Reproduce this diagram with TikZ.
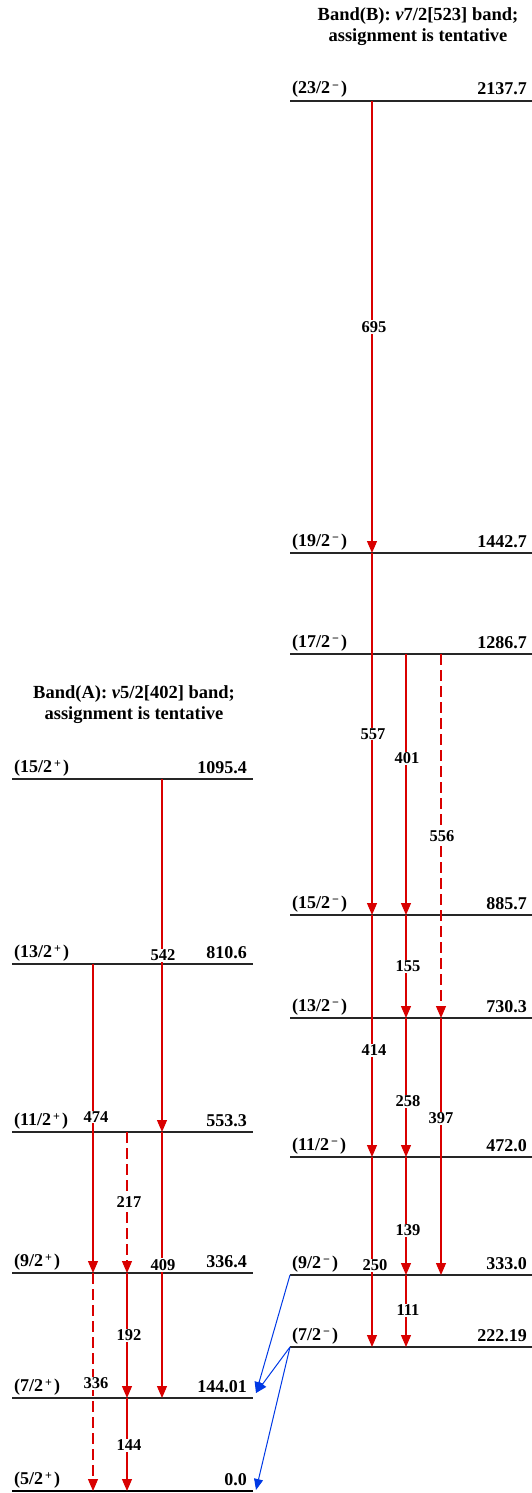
\documentclass[tikz,border=0pt]{standalone}
\usepackage{fontspec}
\setmainfont{Liberation Serif}
\usetikzlibrary{arrows.meta, positioning}

\newcommand{\parm}{\raisebox{0.6ex}{\fontsize{12}{12}\selectfont\,−\,}}
\newcommand{\parp}{\raisebox{0.6ex}{\fontsize{12}{12}\selectfont\,+\,}}

\begin{document}
\begin{tikzpicture}[
  x=1pt, y=-1pt,
  level/.style={line width=1.2pt, black!85},
  ground/.style={line width=2.6pt},
  tr/.style={draw=red!85!black, line width=1.2pt, -{Triangle[length=12pt,width=10pt]}},
  trd/.style={tr, dash pattern=on 11pt off 5pt},
  link/.style={draw=blue!75!cyan!90!black, line width=1pt, -{Triangle[length=11pt,width=9pt]}},
  lbl/.style={fill=white, inner sep=1pt, text=black, font=\bfseries\fontsize{16.5}{17}\selectfont},
  spin/.style={anchor=base west, inner sep=0pt, font=\bfseries\fontsize{18}{18}\selectfont},
  ener/.style={anchor=base east, inner sep=0pt, font=\bfseries\fontsize{18}{18}\selectfont},
  title/.style={align=center, font=\bfseries\fontsize{18.5}{21}\selectfont}
]
\useasboundingbox (0,0) rectangle (532,1493);

% band titles
\node[title] (titleB) at (418,27) {Band(B): \textit{v}7/2[523] band;\\assignment is tentative};
\node[title] (titleA) at (134,705) {Band(A): \textit{v}5/2[402] band;\\assignment is tentative};

% band (B) levels
\foreach \name/\y/\spn/\en in {23/101/23/2137.7, 19/553/19/1442.7, 17/654/17/1286.7,
    15/915/15/885.7, 13/1018/13/730.3, 11/1157/11/472.0, 9/1275/9/333.0, 7/1347/7/222.19} {
  \draw[level] (290,\y) coordinate (B\name) -- (532,\y) coordinate (B\name r);
  \node[spin] (Bs\name) at (292,\y-7) {(\spn/2\parm)};
  \node[ener] (Be\name) at (527,\y-6) {\en};
}

% band (A) levels
\foreach \name/\y/\spn/\en in {15/779/15/1095.4, 13/964/13/810.6, 11/1132/11/553.3,
    9/1273/9/336.4, 7/1398/7/144.01} {
  \draw[level] (12,\y) coordinate (A\name) -- (253,\y) coordinate (A\name r);
  \node[spin] (As\name) at (14,\y-7) {(\spn/2\parp)};
  \node[ener] (Ae\name) at (247,\y-6) {\en};
}
\draw[ground] (12,1491) coordinate (A5) -- (253,1491) coordinate (A5r);
\node[spin] (As5) at (14,1484) {(5/2\parp)};
\node[ener] (Ae5) at (247,1485) {0.0};

% transition columns
\coordinate (ca1) at (93,0);
\coordinate (ca2) at (127,0);
\coordinate (ca3) at (162,0);
\coordinate (cb1) at (372,0);
\coordinate (cb2) at (406,0);
\coordinate (cb3) at (441,0);

% band (B) transitions
\draw[tr] (B23 -| cb1) -- (B19 -| cb1) node[lbl, pos=0.5, xshift=2pt] {695};
\draw[tr] (B19 -| cb1) -- (B15 -| cb1) node[lbl, pos=0.5, xshift=1pt] {557};
\draw[tr] (B15 -| cb1) -- (B11 -| cb1) node[lbl, pos=0.56, xshift=2pt] {414};
\draw[tr] (B11 -| cb1) -- (B7 -| cb1) node[lbl, pos=0.57, xshift=3pt] {250};
\draw[tr] (B17 -| cb2) -- (B15 -| cb2) node[lbl, pos=0.4, xshift=1pt] {401};
\draw[tr] (B15 -| cb2) -- (B13 -| cb2) node[lbl, pos=0.5, xshift=2pt] {155};
\draw[tr] (B13 -| cb2) -- (B11 -| cb2) node[lbl, pos=0.6, xshift=2pt] {258};
\draw[tr] (B11 -| cb2) -- (B9 -| cb2) node[lbl, pos=0.62, xshift=2pt] {139};
\draw[tr] (B9 -| cb2) -- (B7 -| cb2) node[lbl, pos=0.49, xshift=2pt] {111};
\draw[trd] (B17 -| cb3) -- (B13 -| cb3) node[lbl, pos=0.5, xshift=1pt] {556};
\draw[tr] (B13 -| cb3) -- (B9 -| cb3) node[lbl, pos=0.39] {397};

% band (A) transitions
\draw[tr] (A15 -| ca3) -- (A11 -| ca3) node[lbl, pos=0.5, xshift=1pt] {542};
\draw[tr] (A11 -| ca3) -- (A7 -| ca3) node[lbl, pos=0.5, xshift=1pt] {409};
\draw[tr] (A13 -| ca1) -- (A9 -| ca1) node[lbl, pos=0.495, xshift=3pt] {474};
\draw[trd] (A9 -| ca1) -- (A5 -| ca1) node[lbl, pos=0.507, xshift=3pt] {336};
\draw[trd] (A11 -| ca2) -- (A9 -| ca2) node[lbl, pos=0.5, xshift=2pt] {217};
\draw[tr] (A9 -| ca2) -- (A7 -| ca2) node[lbl, pos=0.5, xshift=2pt] {192};
\draw[tr] (A7 -| ca2) -- (A5 -| ca2) node[lbl, pos=0.51, xshift=2pt] {144};

% links between the bands
\coordinate (A7in) at (256,1393);
\coordinate (A5in) at (256,1490);
\draw[link] (B9) -- (A7in);
\draw[link] (B7) -- (A7in);
\draw[link] (B7) -- (A5in);
\end{tikzpicture}
\end{document}
